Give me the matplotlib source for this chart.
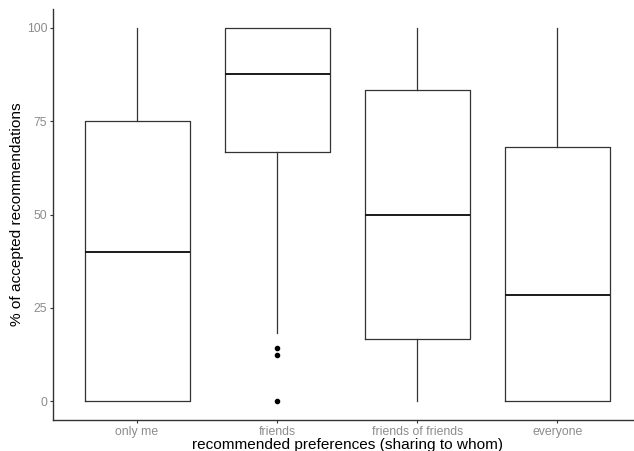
import matplotlib
matplotlib.use("Agg")
import matplotlib.pyplot as plt

plt.rcParams['font.family'] = ['Liberation Sans', 'DejaVu Sans']

categories = ["only me", "friends", "friends of friends", "everyone"]
q1 = [0, 66.67, 16.67, 0]
medians = [40, 87.5, 50, 28.57]
q3 = [75, 100, 83.33, 68]
whislo = [0, 18.3, 0, 0]
whishi = [100, 100, 100, 100]
outliers = [[], [14.3, 12.5, 0], [], []]
yticks = [0, 25, 50, 75, 100]

fig = plt.figure(figsize=(6.34, 4.51), dpi=100)
ax = fig.add_axes([53/634, 31/451, (634-53)/634, (420-9)/451])

stats = []
for i, c in enumerate(categories):
    stats.append(dict(label=c, q1=q1[i], med=medians[i], q3=q3[i],
                      whislo=whislo[i], whishi=whishi[i], fliers=outliers[i]))

lc = '#333333'
ax.bxp(stats, positions=range(1, len(categories) + 1), widths=0.75,
       showcaps=False,
       boxprops=dict(color=lc, linewidth=0.9),
       medianprops=dict(color='#1a1a1a', linewidth=1.4),
       whiskerprops=dict(color=lc, linewidth=0.9),
       flierprops=dict(marker='o', markerfacecolor='black', markeredgecolor='black',
                       markersize=3, linestyle='none'))

ax.set_xlim(0.4, 4.547)
ax.set_ylim(-5, 105)
ax.set_yticks(yticks)
ax.set_yticklabels([str(v) for v in yticks])
ax.set_xticks(range(1, len(categories) + 1))
ax.set_xticklabels(categories)

for s in ['top', 'right']:
    ax.spines[s].set_visible(False)
for s in ['left', 'bottom']:
    ax.spines[s].set_color('#333333')
    ax.spines[s].set_linewidth(1.0)

ax.tick_params(axis='both', colors='#333333', labelcolor='#8c8c8c', labelsize=8.8,
               length=2.2, width=0.8, pad=2)

ax.set_xlabel("recommended preferences (sharing to whom)", fontsize=11.1, color='black')
ax.xaxis.set_label_coords(0.507, -0.0435)
ax.set_ylabel("% of accepted recommendations", fontsize=11.1, color='black')
ax.yaxis.set_label_coords(-0.05, 0.5)

fig.savefig("out.png", dpi=100)
